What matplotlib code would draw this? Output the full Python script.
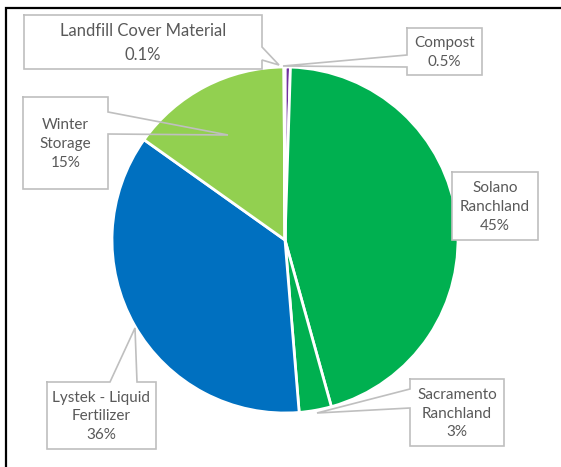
import matplotlib.pyplot as plt
from matplotlib.patches import Rectangle

plt.rcParams['font.family'] = ['Lato', 'DejaVu Sans']

# data
labels = ["Compost", "Solano\nRanchland", "Sacramento\nRanchland",
          "Lystek - Liquid\nFertilizer", "Winter\nStorage", "Landfill Cover Material"]
shares = [0.5, 45, 3, 36, 15, 0.1]
pct_text = ["0.5%", "45%", "3%", "36%", "15%", "0.1%"]
colors = ["#7030A0", "#00B050", "#00B050", "#0070C0", "#92D050", "#FFC000"]

W, H = 561, 467
fig = plt.figure(figsize=(W / 100, H / 100), dpi=100)
ax = fig.add_axes([0, 0, 1, 1])


def Y(y):
    # pixel row (from top) -> data y
    return H - y


ax.pie(shares, colors=colors, startangle=90, counterclock=False,
       center=(285, Y(240)), radius=173,
       wedgeprops=dict(edgecolor="white", linewidth=2))

# callout boxes: box rect (x0, y0, x1, y1) in pixels + outline with pointer
boxes = [
    (407, 28, 482, 75),
    (452, 172, 538, 240),
    (410, 379, 504, 446),
    (47, 382, 156, 449),
    (23, 97, 108, 189),
    (24, 15, 262, 69),
]
outlines = [
    [(407, 28), (482, 28), (482, 75), (407, 75), (407, 67), (283, 66), (407, 55), (407, 28)],
    [(452, 172), (538, 172), (538, 240), (452, 240), (452, 172)],
    [(410, 379), (504, 379), (504, 446), (410, 446), (410, 408), (317, 413), (410, 389), (410, 379)],
    [(47, 382), (110, 382), (135, 328), (137, 382), (156, 382), (156, 449), (47, 449), (47, 382)],
    [(23, 97), (108, 97), (108, 112), (228, 135), (108, 134), (108, 189), (23, 189), (23, 97)],
    [(24, 15), (262, 15), (262, 47), (279, 65), (262, 60), (262, 69), (24, 69), (24, 15)],
]
fsizes = [11, 11, 11, 11, 11, 12]
spacing = [1.45, 1.45, 1.45, 1.45, 1.45, 1.6]

for lab, pct, (x0, y0, x1, y1), pts, fs, ls in zip(labels, pct_text, boxes, outlines, fsizes, spacing):
    ax.add_patch(Rectangle((x0, Y(y1)), x1 - x0, y1 - y0, facecolor="white",
                           edgecolor="none", zorder=3))
    ax.plot([p[0] for p in pts], [Y(p[1]) for p in pts], color="#BFBFBF",
            lw=1.2, zorder=4, solid_joinstyle="miter")
    ax.text((x0 + x1) / 2, Y((y0 + y1) / 2 + 1), lab + "\n" + pct, ha="center",
            va="center", fontsize=fs, color="#595959", linespacing=ls, zorder=5)

# outer frame (left and top edges)
ax.plot([6, 6, W], [0, Y(8), Y(8)], color="black", lw=1.6, zorder=6,
        solid_joinstyle="miter")

ax.set_xlim(0, W)
ax.set_ylim(0, H)
ax.set_aspect("equal")
ax.set_axis_off()
fig.savefig("out.png", dpi=100, facecolor="white")
